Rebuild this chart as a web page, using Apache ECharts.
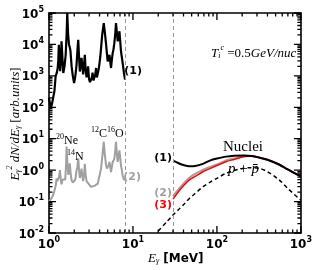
<!DOCTYPE html>
<html><head><meta charset="utf-8">
<script src="https://cdn.jsdelivr.net/npm/echarts@6/dist/echarts.min.js"></script>
<style>html,body{margin:0;padding:0;background:#fff}#c{width:315px;height:270px}</style>
</head><body><div id="c"></div>
<script>
// ---- data ----
const lineE1 = [1.0,1.03,1.06,1.08,1.12,1.16,1.2,1.24,1.27,1.29,1.31,1.34,1.36,1.39,1.41,1.45,1.48,1.53,1.58,1.62,1.65,1.69,1.73,1.77,1.8,1.86,1.92,1.99,2.06,2.13,2.18,2.23,2.28,2.33,2.38,2.44,2.5,2.55,2.61,2.67,2.73,2.8,2.86,2.92,3.0,3.08,3.17,3.24,3.3,3.39,3.48,3.56,3.64,3.72,3.81,3.9,4.0,4.08,4.17,4.3,4.49,4.62,4.79,4.9,5.0,5.12,5.25,5.36,5.48,5.6,5.74,5.87,6.0,6.14,6.28,6.42,6.58,6.74,6.9,7.05,7.2,7.37,7.54,7.8,8.05];
const lineV1 = [200,126,100,120,200,324,980,1260,1780,3160,9800,2500,1410,3980,12600,3160,1230,2000,4680,20000,100000,20000,10000,7940,6310,2000,1000,590,1000,2290,6310,14100,3980,1380,2000,3720,2000,1120,2000,4680,1580,890,1260,2000,790,630,590,890,1260,710,760,1120,1780,890,850,1580,2570,3980,7590,20000,47900,25100,9800,5010,2880,3550,4680,2820,1780,3160,5370,7080,11000,20000,47900,25100,12600,17800,26300,12600,6030,3980,2570,1260,760];
const lineE2 = [1.0,1.03,1.07,1.12,1.15,1.18,1.21,1.23,1.26,1.28,1.32,1.35,1.38,1.41,1.45,1.48,1.52,1.56,1.6,1.62,1.65,1.7,1.74,1.77,1.81,1.85,1.92,2.0,2.06,2.13,2.18,2.23,2.28,2.33,2.38,2.44,2.5,2.55,2.61,2.67,2.73,2.8,2.9,3.0,3.08,3.17,3.3,3.48,3.64,3.81,4.0,4.17,4.3,4.49,4.62,4.79,4.9,5.0,5.12,5.25,5.36,5.48,5.6,5.74,5.87,6.0,6.14,6.28,6.42,6.58,6.74,6.9,7.05,7.2,7.37,7.54,7.8,8.05];
const lineV2 = [0.1,0.087,0.126,0.162,0.2,0.263,0.355,0.55,0.447,0.398,0.631,1.0,0.5,0.355,0.5,0.562,0.447,0.5,1.58,5.62,2.0,0.708,1.0,1.66,0.794,0.5,0.398,0.355,0.5,1.0,1.26,2.4,1.0,0.562,0.708,1.12,0.631,0.447,0.631,1.58,0.708,0.447,0.427,0.355,0.316,0.295,0.339,0.316,0.355,0.372,0.676,1.12,2.51,7.94,3.16,1.41,1.12,1.0,1.41,1.82,1.26,0.871,1.26,1.82,2.0,2.29,3.98,7.94,3.55,1.82,2.82,4.27,2.51,1.41,1.0,0.676,0.5,0.5];
const contE = [30,35,40,47,55,68,85,100,128,160,211,260,318,400,550,700,1000];
const nucleiV1 = [2.0,1.66,1.45,1.32,1.35,1.58,2.09,2.34,2.69,2.88,2.95,2.82,2.51,2.14,1.51,1.05,0.63];
const nucleiV2 = [0.148,0.25,0.37,0.575,0.76,1.02,1.29,1.51,2.04,2.34,2.75,2.82,2.51,2.14,1.51,1.05,0.63];
const nucleiV3 = [0.12,0.21,0.32,0.49,0.63,0.89,1.16,1.4,1.86,2.19,2.69,2.82,2.51,2.14,1.51,1.05,0.63];
const ppE = [20,25,30,35,40,47,55,68,85,100,128,160,200,240,318,400,550,700,1000];
const ppV = [0.0115,0.022,0.037,0.056,0.079,0.126,0.18,0.295,0.43,0.55,0.79,0.98,1.12,1.2,1.15,0.89,0.49,0.26,0.11];
const cutE = [8, 30];
const xMajor = [1,10,100,1000];
const yMajor = [0.01,0.1,1,10,100,1000,10000,100000];
const mult = [2,3,4,5,6,7,8,9];
const xMinor = [], yMinor = [];
xMajor.slice(0,-1).forEach(d => mult.forEach(m => xMinor.push(d*m)));
yMajor.slice(0,-1).forEach(d => mult.forEach(m => yMinor.push(d*m)));

// ---- layout ----
const W = 315, H = 270;
const GL = 49, GR = 12.5, GT = 13, GB = 37;
const X0 = 1, X1 = 1000, Y0 = 0.01, Y1 = 100000;
const pxDecX = (W - GL - GR) / Math.log10(X1 / X0);
const pxDecY = (H - GT - GB) / Math.log10(Y1 / Y0);
const fx = len => Math.pow(10, len / pxDecX);
const fy = len => Math.pow(10, len / pxDecY);
// tick segments as small line-series pieces (null breaks between pieces)
const tickX = [], tickY = [];
function xTick(v, len){
  tickX.push([v, Y0], [v, Y0 * fy(len)], [null, null]);
  tickX.push([v, Y1], [v, Y1 / fy(len)], [null, null]);
}
function yTick(v, len){
  tickY.push([X0, v], [X0 * fx(len), v], [null, null]);
  tickY.push([X1, v], [X1 / fx(len), v], [null, null]);
}
xMajor.forEach(v => xTick(v, 7));
xMinor.forEach(v => xTick(v, 3.5));
yMajor.forEach(v => yTick(v, 7));
yMinor.forEach(v => yTick(v, 3.5));

// ---- chart ----
const chart = echarts.init(document.getElementById('c'), null, {renderer:'canvas'});
const pair = (xs, ys) => xs.map((x,i)=>[x, ys[i]]);
function pow10(v){ const e = Math.round(Math.log10(v)); return '{b|10}{s|' + (e<0 ? '-'+(-e) : e) + '}'; }
const tickRich = {
  b:{fontFamily:'DejaVu Sans', fontSize:12, fontWeight:'bold', color:'#000', lineHeight:15, verticalAlign:'bottom'},
  s:{fontFamily:'DejaVu Sans', fontSize:8, fontWeight:'bold', color:'#000', lineHeight:9, verticalAlign:'top'}
};
function mainAxis(isX, pos, showLabel){
  const major = isX ? xMajor : yMajor;
  return {
    type:'log', logBase:10, min: isX?X0:Y0, max: isX?X1:Y1,
    position: pos,
    axisLine:{show:true, onZero:false, lineStyle:{color:'#000', width:1.6}},
    axisTick:{show:false},
    axisLabel:{show:showLabel, customValues: major, formatter: pow10, rich: tickRich, margin: isX?3:5},
    splitLine:{show:false}
  };
}
const serif = 'Liberation Serif';
const mathRich = {
  i:{fontFamily:serif, fontStyle:'italic', fontSize:13, color:'#000', lineHeight:16, verticalAlign:'bottom'},
  n:{fontFamily:serif, fontSize:13, color:'#000', lineHeight:16, verticalAlign:'bottom'},
  sb:{fontFamily:serif, fontStyle:'italic', fontSize:8, color:'#000', lineHeight:8, verticalAlign:'bottom'},
  sp:{fontFamily:serif, fontStyle:'italic', fontSize:8, color:'#000', lineHeight:8, verticalAlign:'top'},
  su:{fontFamily:serif, fontSize:8, color:'#000', lineHeight:8, verticalAlign:'top'}
};
const isoRich = {su:mathRich.su, n:{fontFamily:serif, fontSize:12, color:'#000', lineHeight:14, verticalAlign:'bottom'}};
function lbl(x, y, text, color){
  return {type:'text', x:x, y:y, z:100, style:{text:text, fill:color, font:'bold 11px "DejaVu Sans"', align:'right', verticalAlign:'middle'}};
}
const graphics = [
  {type:'text', x:14, y:124, rotation:Math.PI/2, z:100,
   style:{text:'{i|E}{sb|γ}{sp|2}{i| dN/dE}{sb|γ}{n| [}{i|arb.units}{n|]}', rich:mathRich, align:'center', verticalAlign:'middle'}},
  {type:'text', x:211, y:52, z:100,
   style:{text:'{i|T}{sb|i}{sp|c}{n| =0.5}{i|GeV/nuc}', rich:mathRich, align:'left', verticalAlign:'middle'}},
  {type:'text', x:148, y:257, z:100,
   style:{text:'{i|E}{sb|γ}{t| [MeV]}', rich:{i:mathRich.i, sb:mathRich.sb, t:{fontFamily:'DejaVu Sans', fontSize:12, fontWeight:'bold', color:'#000', lineHeight:16, verticalAlign:'bottom'}}, align:'left', verticalAlign:'middle'}},
  {type:'text', x:223, y:147, z:100, style:{text:'Nuclei', font:'15px "Liberation Serif"', fill:'#000', align:'left', verticalAlign:'middle'}},
  {type:'text', x:228, y:169, z:100,
   style:{text:'{i|p}{n| + }{i|p̄}', rich:{i:{fontFamily:serif, fontStyle:'italic', fontSize:15, color:'#000'}, n:{fontFamily:serif, fontSize:15, color:'#000'}}, align:'left', verticalAlign:'middle'}},
  {type:'text', x:56, y:140, z:100, style:{text:'{su|20}{n|Ne}', rich:isoRich, align:'left', verticalAlign:'middle'}},
  {type:'text', x:67, y:156, z:100, style:{text:'{su|14}{n|N}', rich:isoRich, align:'left', verticalAlign:'middle'}},
  {type:'text', x:91, y:133, z:100, style:{text:'{su|12}{n|C}{su|16}{n|O}', rich:isoRich, align:'left', verticalAlign:'middle'}},
  lbl(142, 71, '(1)', '#000'),
  lbl(141, 177, '(2)', '#a0a0a0'),
  lbl(172, 158, '(1)', '#000'),
  lbl(172, 193, '(2)', '#a0a0a0'),
  lbl(172, 205, '(3)', '#ff0000')
];
const tickStyle = {color:'#000', width:1.3};
const option = {
  animation:false,
  backgroundColor:'#fff',
  grid:{left:GL, right:GR, top:GT, bottom:GB, containLabel:false},
  xAxis:[mainAxis(true,'bottom',true), mainAxis(true,'top',false)],
  yAxis:[mainAxis(false,'left',true), mainAxis(false,'right',false)],
  series:[
    {type:'line', data:tickX, showSymbol:false, connectNulls:false, clip:false, silent:true, z:5, lineStyle:tickStyle},
    {type:'line', data:tickY, showSymbol:false, connectNulls:false, clip:false, silent:true, z:5, lineStyle:tickStyle},
    {type:'line', data:pair(ppE, ppV), showSymbol:false, smooth:0.3, clip:true,
     lineStyle:{color:'#000', width:1.5, type:[4,3]},
     markLine:{silent:true, symbol:'none', label:{show:false}, animation:false,
       lineStyle:{color:'#999', width:1, type:[4,3]},
       data: cutE.map(e=>({xAxis:e}))}},
    {type:'line', data:pair(contE, nucleiV2), showSymbol:false, smooth:0.3, clip:true, lineStyle:{color:'#a0a0a0', width:2}},
    {type:'line', data:pair(contE, nucleiV3), showSymbol:false, smooth:0.3, clip:true, lineStyle:{color:'#ff0000', width:1.5}},
    {type:'line', data:pair(contE, nucleiV1), showSymbol:false, smooth:0.3, clip:true, lineStyle:{color:'#000', width:2}},
    {type:'line', data:pair(lineE2, lineV2), showSymbol:false, clip:true, lineStyle:{color:'#a0a0a0', width:2}},
    {type:'line', data:pair(lineE1, lineV1), showSymbol:false, clip:true, lineStyle:{color:'#000', width:2.2}}
  ],
  graphic: graphics
};
chart.setOption(option);
</script></body></html>
